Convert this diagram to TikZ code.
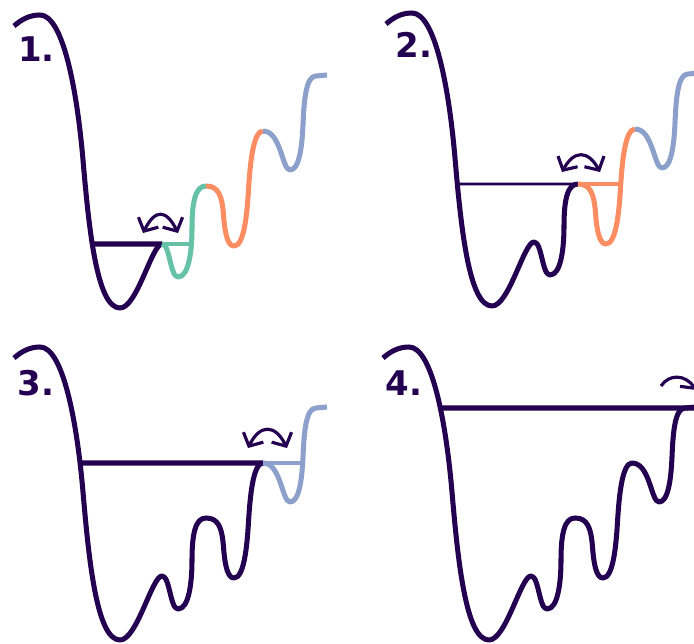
\documentclass[tikz,border=0pt]{standalone}
\usepackage{fontspec}
\setmainfont{DejaVu Sans}
\usepackage{xcolor}
\definecolor{ink}{HTML}{230050}
\definecolor{poolgreen}{HTML}{66C2A5}
\definecolor{poolorange}{HTML}{FC8D62}
\definecolor{poolblue}{HTML}{8DA0CB}
\usepackage{tikz}
\usetikzlibrary{arrows.meta,intersections}

% the energy landscape, cut at its barrier tops
\newcommand{\wallpart}{(14,26) .. controls (22,19) and (30,15) .. (40,15)
  .. controls (63,15) and (77,90) .. (83,160) .. controls (89,230) and (97,308) .. (120,308)
  .. controls (137,308) and (152,244) .. (162,244)}
\newcommand{\basinB}{.. controls (170,244) and (170,277) .. (178,277)
  .. controls (189,277) and (192,250) .. (192,228) .. controls (192,200) and (196,186) .. (206,186)}
\newcommand{\basinC}{.. controls (218,186) and (222,195) .. (223.5,215)
  .. controls (225,235) and (228,246) .. (234,246) .. controls (244,246) and (247,215) .. (248.5,190)
  .. controls (250,165) and (253,131) .. (263,131)}
\newcommand{\basinD}{.. controls (281,131) and (282,170) .. (290,170)
  .. controls (299,170) and (302,148) .. (303,125) .. controls (304,100) and (306,76) .. (316,76)
  -- (327,75)}

\begin{document}
\begin{tikzpicture}[x=0.03cm,y=-0.03cm,
  land/.style={line width=4.3pt,line join=round},
  level/.style={line width=4.3pt,ink},
  thinlevel/.style={line width=2.3pt,ink},
  pool/.style={line width=3.2pt},
  hop/.style={<->,>={Straight Barb[length=8.5pt,width=19pt]},line width=2.7pt,ink},
  tag/.style={font=\fontsize{29}{29}\selectfont\bfseries,text=ink,inner sep=0pt,anchor=north west}]
  \useasboundingbox (0,0) rectangle (694,644);
  \clip (0,0) rectangle (694,644);
  % 1.
  \begin{scope}
    \path[name path=wall1] \wallpart;
    \path[name path=lvl1] (50,244) -- (110,244);
    \path[name intersections={of=wall1 and lvl1,by=edge1}];
    \draw[level] (edge1) -- (162,244);
    \draw[pool,poolgreen] (162,244) -- (192,244);
    \draw[land,ink] \wallpart;
    \draw[land,poolgreen] (162,244) \basinB;
    \draw[land,poolorange] (206,186) \basinC;
    \draw[land,poolblue] (263,131) \basinD;
    \draw[hop] (143,233) .. controls (155,209) and (166,209) .. (178,233);
    \node[tag] (tag1) at (18,36.7) {1.};
  \end{scope}
  % 2.
  \begin{scope}[shift={(372,-2)}]
    \path[name path=wall2] \wallpart;
    \path[name path=lvl2] (50,186) -- (110,186);
    \path[name intersections={of=wall2 and lvl2,by=edge2}];
    \draw[thinlevel] (edge2) -- (206,186);
    \draw[pool,poolorange] (206,186) -- (249,186);
    \draw[land,ink] \wallpart \basinB;
    \draw[land,poolorange] (206,186) \basinC;
    \draw[land,poolblue] (263,131) \basinD;
    \draw[hop] (190,174) .. controls (202,152) and (216,152) .. (228,174);
    \node[tag] (tag2) at (23.5,33.7) {2.};
  \end{scope}
  % 3.
  \begin{scope}[shift={(0,332)}]
    \path[name path=wall3] \wallpart;
    \path[name path=lvl3] (50,131) -- (110,131);
    \path[name intersections={of=wall3 and lvl3,by=edge3}];
    \draw[level] (edge3) -- (263,131);
    \draw[pool,poolblue] (263,131) -- (303,131);
    \draw[land,ink] \wallpart \basinB \basinC;
    \draw[land,poolblue] (263,131) \basinD;
    \draw[hop] (248,116) .. controls (260,92) and (275,92) .. (287,116);
    \node[tag] (tag3) at (17.3,38.3) {3.};
  \end{scope}
  % 4.
  \begin{scope}[shift={(369,332)}]
    \path[name path=wall4] \wallpart;
    \path[name path=lvl4] (50,76) -- (110,76);
    \path[name intersections={of=wall4 and lvl4,by=edge4}];
    \draw[level] (edge4) -- (335,76);
    \draw[land,ink] \wallpart \basinB \basinC \basinD;
    \draw[hop,->] (292,54) .. controls (300,42) and (316,42) .. (327,58);
    \node[tag] (tag4) at (16.6,38.3) {4.};
  \end{scope}
\end{tikzpicture}
\end{document}
